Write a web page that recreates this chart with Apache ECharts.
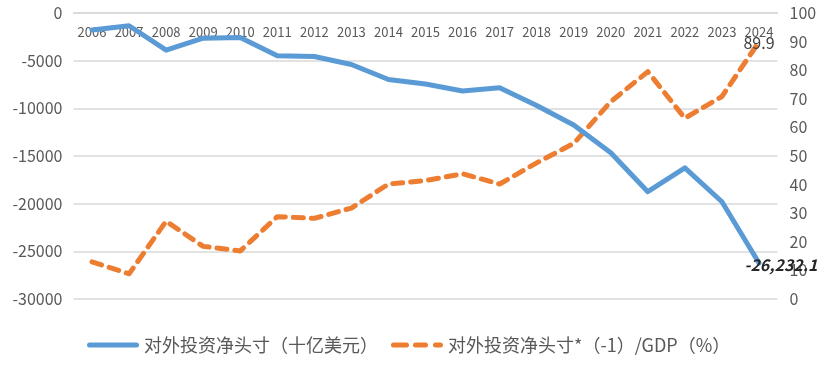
<!DOCTYPE html>
<html>
<head>
<meta charset="utf-8">
<script src="https://cdn.jsdelivr.net/npm/echarts@6/dist/echarts.min.js"></script>
<style>html,body{margin:0;padding:0;background:#fff}#c{width:832px;height:373px}</style>
</head>
<body>
<div id="c"></div>
<script>
const years = ['2006','2007','2008','2009','2010','2011','2012','2013','2014','2015','2016','2017','2018','2019','2020','2021','2022','2023','2024'];
const niip = [-1780, -1340, -3900, -2640, -2560, -4480, -4560, -5400, -6980, -7450, -8180, -7850, -9700, -11750, -14650, -18740, -16250, -19800, -26232.1];
const niipPctGdp = [13.0, 8.8, 27.2, 18.4, 16.8, 28.8, 28.2, 31.8, 40.2, 41.4, 43.8, 40.2, 47.6, 54.4, 69.0, 79.5, 63.2, 70.8, 89.9];
const seriesNames = ['对外投资净头寸（十亿美元）', '对外投资净头寸*（-1）/GDP（%）'];

const FONT = '"Noto Sans CJK SC", "Noto Sans", sans-serif';
const lastIdx = years.length - 1;

function pill(x0, x1) {
  return 'M' + (x0 + 2.5) + ',0 H' + (x1 - 2.5) + ' A2.5,2.5 0 0 1 ' + (x1 - 2.5) + ',5 H' + (x0 + 2.5) + ' A2.5,2.5 0 0 1 ' + (x0 + 2.5) + ',0 Z';
}
const solidIcon = 'path://' + pill(0, 52);
const dashIcon = 'path://' + pill(0, 18) + ' ' + pill(22, 37) + ' ' + pill(42, 52);

const chart = echarts.init(document.getElementById('c'));
chart.setOption({
  animation: false,
  textStyle: { fontFamily: FONT },
  grid: { left: 73.5, right: 54.5, top: 13, bottom: 74 },
  legend: {
    left: 82, top: 331,
    itemWidth: 52, itemHeight: 5, itemGap: 13,
    textStyle: { fontSize: 18, color: '#595959', fontFamily: FONT },
    data: [
      { name: seriesNames[0], icon: solidIcon },
      { name: seriesNames[1], icon: dashIcon }
    ]
  },
  xAxis: {
    type: 'category', data: years, position: 'top',
    axisLine: { show: true, lineStyle: { color: '#d9d9d9', width: 1.5 } },
    axisTick: { show: false },
    axisLabel: { inside: true, interval: 0, margin: 13, fontSize: 13, color: '#595959', fontFamily: FONT }
  },
  yAxis: [
    {
      type: 'value', min: -30000, max: 0, interval: 5000,
      axisLine: { show: false }, axisTick: { show: false },
      axisLabel: { fontSize: 16, color: '#595959', margin: 11, formatter: v => String(v), fontFamily: FONT },
      splitLine: { lineStyle: { color: '#d9d9d9', width: 1.5 } }
    },
    {
      type: 'value', min: 0, max: 100, interval: 10, position: 'right',
      axisLine: { show: false }, axisTick: { show: false },
      axisLabel: { fontSize: 16, color: '#595959', margin: 12, fontFamily: FONT },
      splitLine: { show: false }
    }
  ],
  series: [
    {
      name: seriesNames[0], type: 'line', yAxisIndex: 0, data: niip,
      symbol: 'none',
      lineStyle: { color: '#5b9bd5', width: 5, cap: 'round', join: 'round' },
      itemStyle: { color: '#5b9bd5' },
      z: 3,
      markPoint: {
        symbol: 'circle', symbolSize: 1,
        itemStyle: { color: 'rgba(0,0,0,0)' },
        data: [{
          coord: [years[lastIdx], niip[lastIdx]],
          label: {
            show: true, position: 'inside', offset: [22, 2],
            fontSize: 16, fontWeight: 'bold', fontStyle: 'italic', color: '#262626', fontFamily: FONT,
            formatter: p => Number(p.data.coord[1]).toLocaleString('en-US', { minimumFractionDigits: 1, maximumFractionDigits: 1 })
          }
        }]
      }
    },
    {
      name: seriesNames[1], type: 'line', yAxisIndex: 1, data: niipPctGdp,
      symbol: 'none',
      lineStyle: { color: '#ed7d31', width: 5, type: [10, 8], cap: 'round', join: 'round' },
      itemStyle: { color: '#ed7d31' },
      z: 2,
      markPoint: {
        symbol: 'circle', symbolSize: 1,
        itemStyle: { color: 'rgba(0,0,0,0)' },
        data: [{
          coord: [years[lastIdx], niipPctGdp[lastIdx]],
          label: {
            show: true, position: 'inside', offset: [0, 1],
            fontSize: 16, color: '#404040', fontFamily: FONT,
            formatter: p => String(p.data.coord[1])
          }
        }]
      }
    }
  ]
});
</script>
</body>
</html>
